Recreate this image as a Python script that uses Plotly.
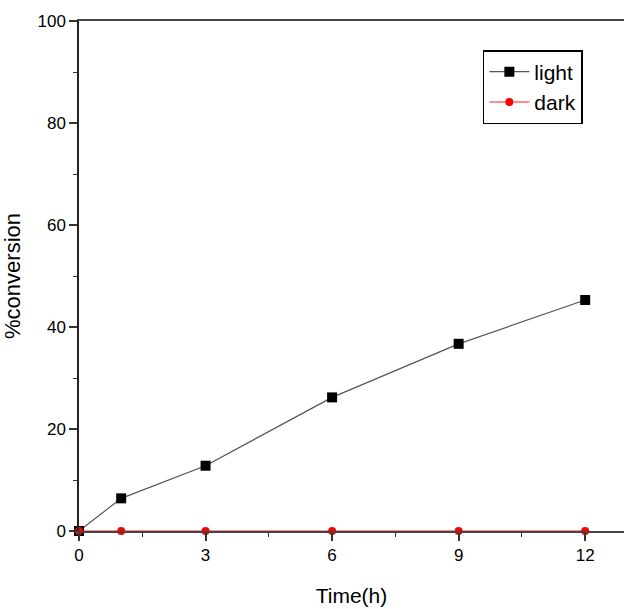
import plotly.graph_objects as go

time_light = [0, 1, 3, 6, 9, 12]
conv_light = [0, 6.4, 12.8, 26.2, 36.7, 45.3]
time_dark = [0, 1, 3, 6, 9, 12]
conv_dark = [0, 0, 0, 0, 0, 0]

x_ticks = [0, 3, 6, 9, 12]
y_ticks = [0, 20, 40, 60, 80, 100]

fig = go.Figure()
fig.add_trace(go.Scatter(
    x=time_light, y=conv_light, name="light", mode="lines+markers",
    line=dict(color="#555555", width=1.2),
    marker=dict(symbol="square", size=10, color="black"),
    cliponaxis=False,
))
fig.add_trace(go.Scatter(
    x=time_dark, y=conv_dark, name="dark", mode="lines+markers",
    line=dict(color="#ff2020", width=1.2),
    marker=dict(symbol="circle", size=8, color="red"),
    cliponaxis=False,
))

font = "Liberation Sans, Arial, sans-serif"
fig.update_layout(
    width=625, height=609,
    margin=dict(l=79, r=1, t=21, b=78),
    paper_bgcolor="white", plot_bgcolor="white",
    font=dict(family=font, color="black", size=17),
    showlegend=True,
    legend=dict(
        x=0.741, y=0.943, xanchor="left", yanchor="top",
        bordercolor="black", borderwidth=1.5, bgcolor="white",
        font=dict(size=21, family=font), tracegroupgap=0,
        itemwidth=40,
    ),
    xaxis=dict(
        range=[0, 12.92], tickvals=x_ticks, ticktext=[str(v) for v in x_ticks],
        ticks="outside", ticklen=8, tickwidth=1.5, tickcolor="#333",
        minor=dict(tickvals=[1.5, 4.5, 7.5, 10.5], ticks="outside", ticklen=4, tickcolor="#333", tickwidth=1.2),
        showline=True, linecolor="#444", linewidth=2, mirror=True,
        showgrid=False, zeroline=False,
        title=dict(text="Time(h)", font=dict(size=21), standoff=24),
        tickfont=dict(size=17),
    ),
    yaxis=dict(
        range=[0, 100], tickvals=y_ticks, ticktext=[str(v) for v in y_ticks],
        ticks="outside", ticklen=8, tickwidth=1.5, tickcolor="#333",
        minor=dict(tickvals=[10, 30, 50, 70, 90], ticks="outside", ticklen=4, tickcolor="#333", tickwidth=1.2),
        showline=True, linecolor="#222", linewidth=1.5,
        showgrid=False, zeroline=False,
        title=dict(text="%conversion", font=dict(size=22), standoff=22),
        tickfont=dict(size=17),
    ),
)

fig.write_html("out.html")
